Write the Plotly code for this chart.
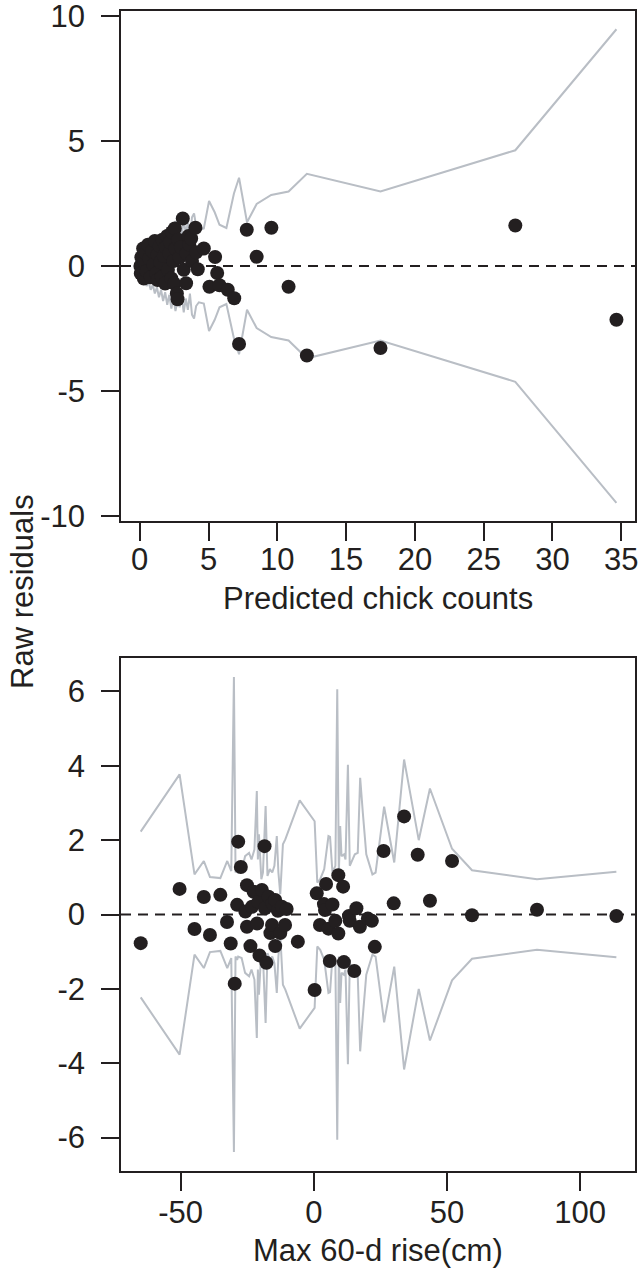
import plotly.graph_objects as go

# ---------- Panel A: residuals vs predicted chick counts ----------
pred_counts = [0.05, 0.08, 0.12, 0.25, 0.30, 0.35, 0.45, 0.50,
               0.60, 0.70, 0.80, 0.90, 1.00, 1.10, 1.20, 1.30, 1.30, 1.45, 1.50,
               1.60, 1.65, 1.75, 1.85, 1.90, 2.00, 2.05, 2.15, 2.20, 2.30, 2.35, 2.45,
               2.50, 2.55, 2.60, 2.70, 2.75, 2.80, 2.90, 3.00, 3.13, 3.20, 3.37, 3.40,
               3.55, 3.60, 3.74, 3.80, 4.05, 4.10, 4.22,
               4.66, 5.07, 5.48, 5.63, 5.80, 6.40, 6.87, 7.22,
               7.78, 8.50, 9.57, 10.82, 12.15, 17.50, 27.30, 34.65]
resid_a = [0.00, -0.30, 0.35, 0.70, -0.50, 0.15, 0.50, -0.20,
           0.85, 0.30, -0.45, 0.60, 0.05, 1.00, -0.30, -0.56, 0.45, 0.80, 0.15,
           -0.45, 1.05, 0.40, -0.70, 0.75, 1.20, -0.15, 0.50, 0.95, -0.50, 1.35, 0.20,
           -0.70, 1.50, 0.70, -1.10, -1.33, 1.05, 0.35, 0.75, 1.90, -0.15, -0.69, 0.50,
           1.20, 0.85, 1.10, 0.20, 1.53, 0.55, -0.13,
           0.70, -0.83, 0.36, -0.28, -0.77, -0.95, -1.29, -3.12,
           1.45, 0.37, 1.53, -0.83, -3.58, -3.28, 1.62, -2.15]

# envelope half-width (drawn as +/- band)
env_x_a = [0.05, 0.20, 0.35, 0.50, 0.65, 0.80, 0.95, 1.10, 1.25, 1.40,
           1.55, 1.70, 1.85, 2.00, 2.15, 2.30, 2.45, 2.60, 2.75, 2.90,
           3.05, 3.20, 3.35, 3.50, 3.65, 3.80, 3.95, 4.10, 4.30, 4.66,
           5.04, 5.45, 5.80, 6.30, 6.85, 7.22, 7.80, 8.50, 9.56, 10.82,
           12.15, 17.50, 27.30, 34.65]
env_a = [0.35, 0.60, 0.50, 0.80, 0.65, 0.95, 0.75, 1.10, 0.85, 1.25,
         0.95, 1.40, 1.05, 1.55, 1.15, 1.70, 1.25, 1.80, 1.35, 1.65,
         1.20, 1.85, 1.30, 1.75, 1.10, 1.95, 2.10, 1.60, 1.45, 1.50,
         2.60, 2.15, 1.65, 1.52, 2.90, 3.53, 1.75, 2.48, 2.84, 2.98,
         3.69, 2.98, 4.63, 9.47]

# ---------- Panel B: residuals vs max 60-d rise ----------
rise_cm = [-65.0, -50.4, -44.8, -41.3, -39.0, -35.1, -32.6, -31.2, -29.7, -28.4,
           -28.8, -27.4, -25.7, -25.1, -25.1, -23.8, -23.2, -22.6, -21.3, -20.8,
           -20.4, -19.5, -18.5, -18.3, -17.8, -17.0, -16.3, -15.7, -15.5, -14.5,
           -14.5, -13.5, -12.6, -12.0, -10.8, -10.2, -6.0, 0.3, 1.1, 2.3,
           3.8, 4.2, 4.6, 5.5, 6.0, 7.0, 8.1, 9.2, 9.2, 11.0,
           11.3, 13.2, 13.5, 15.2, 16.0, 17.3, 20.3, 21.8, 22.9, 26.2,
           30.0, 33.9, 39.0, 43.6, 51.9, 59.4, 83.8, 113.6]
resid_b = [-0.77, 0.69, -0.39, 0.47, -0.55, 0.53, -0.20, -0.78, -1.86, 1.96,
           0.26, 1.28, 0.08, 0.79, -0.33, -0.85, 0.21, 0.61, -0.24, 0.34,
           -1.10, 0.66, 1.84, 0.17, -1.30, 0.48, -0.50, -0.28, 0.30, 0.39,
           -0.85, 0.10, -0.50, 0.21, -0.28, 0.15, -0.73, -2.03, 0.57, -0.28,
           0.28, 0.12, 0.82, -0.38, -1.25, 0.27, -0.17, -0.51, 1.06, 0.75,
           -1.28, -0.04, -0.17, -1.52, 0.17, -0.33, -0.11, -0.17, -0.87, 1.71,
           0.30, 2.64, 1.61, 0.37, 1.44, -0.02, 0.13, -0.04]

env_x_b = [-65.0, -50.4, -44.8, -41.3, -39.0, -35.1, -32.5, -31.0, -30.0, -29.4,
           -28.8, -28.4, -27.1, -25.8, -24.3, -23.4, -22.3, -21.4, -21.0, -20.6,
           -19.7, -19.1, -18.1, -17.4, -16.5, -15.6, -14.8, -13.9, -13.3, -12.6,
           -11.6, -10.7, -5.3, 0.3, 1.3, 2.4, 3.9, 5.5, 6.1, 7.0,
           8.1, 8.8, 9.4, 9.9, 10.4, 11.3, 11.9, 12.8, 13.5, 14.5,
           15.4, 16.5, 17.4, 18.4, 19.7, 22.0, 23.2, 26.4, 30.2, 33.9,
           39.4, 43.6, 51.9, 59.4, 83.8, 113.6]
env_b = [2.23, 3.77, 1.08, 1.44, 1.01, 0.98, 1.44, 1.17, 6.39, 1.13,
         1.22, 1.13, 1.17, 1.57, 1.66, 1.48, 1.75, 3.32, 1.48, 2.16,
         0.95, 1.13, 2.92, 1.04, 1.22, 1.13, 1.31, 2.11, 1.13, 0.55,
         1.89, 2.02, 3.07, 2.51, 0.86, 0.95, 1.22, 2.11, 2.09, 1.13,
         1.31, 6.06, 1.13, 2.38, 1.57, 1.62, 1.48, 4.03, 1.31, 1.48,
         1.62, 1.66, 3.68, 2.74, 1.62, 1.08, 1.13, 2.90, 1.40, 4.17,
         2.00, 3.39, 1.77, 1.19, 0.95, 1.15]

# tick labels (hyphen-minus, as printed)
xt_a = [0, 5, 10, 15, 20, 25, 30, 35]
yt_a = [10, 5, 0, -5, -10]
xt_b = [-50, 0, 50, 100]
yt_b = [6, 4, 2, 0, -2, -4, -6]

INK = "#231f20"
GREY = "#b9bec5"
FONT = "Liberation Sans, Arial, Helvetica, sans-serif"
FS = 31

fig = go.Figure()


def add_panel(xs, ys, ex, ew, xa, ya):
    fig.add_trace(go.Scatter(x=ex, y=ew, mode="lines", xaxis=xa, yaxis=ya,
                             line=dict(color=GREY, width=2), hoverinfo="skip"))
    fig.add_trace(go.Scatter(x=ex, y=[-v for v in ew], mode="lines", xaxis=xa, yaxis=ya,
                             line=dict(color=GREY, width=2), hoverinfo="skip"))
    fig.add_trace(go.Scatter(x=xs, y=ys, mode="markers", xaxis=xa, yaxis=ya,
                             marker=dict(size=14, color=INK, line=dict(width=0))))


add_panel(pred_counts, resid_a, env_x_a, env_a, "x", "y")
add_panel(rise_cm, resid_b, env_x_b, env_b, "x2", "y2")

# dashed reference line at zero across each panel
for xr, yr in (("x domain", "y"), ("x2 domain", "y2")):
    fig.add_shape(type="line", xref=xr, yref=yr, x0=0, x1=1, y0=0, y1=0,
                  line=dict(color=INK, width=2, dash="10px,7px"), layer="below")

axis_common = dict(showgrid=False, zeroline=False, showline=True, mirror=True,
                   linecolor=INK, linewidth=1.5, ticks="outside", ticklen=18,
                   tickwidth=1.5, tickcolor=INK, tickmode="array",
                   ticklabeloverflow="allow", automargin=False,
                   tickfont=dict(family=FONT, size=FS, color=INK))

fig.update_layout(
    width=640, height=1272,
    margin=dict(l=121, r=5, t=11, b=101, autoexpand=False),
    paper_bgcolor="white", plot_bgcolor="white",
    showlegend=False,
    xaxis=dict(axis_common, range=[-1.36, 36.0], anchor="y",
               tickvals=xt_a, ticktext=[str(v) for v in xt_a], ticklabelstandoff=-8),
    yaxis=dict(axis_common, range=[-10.2, 10.2], domain=[0.5603, 1.0], anchor="x",
               tickvals=yt_a, ticktext=[str(v) for v in yt_a], ticklabelstandoff=10),
    xaxis2=dict(axis_common, range=[-72.4, 120.6], anchor="y2",
                tickvals=xt_b, ticktext=[str(v) for v in xt_b], ticklabelstandoff=-5),
    yaxis2=dict(axis_common, range=[-6.9, 6.9], domain=[0.0, 0.4422], anchor="x2",
                tickvals=yt_b, ticktext=[str(v) for v in yt_b], ticklabelstandoff=10),
    annotations=[
        dict(text="Predicted chick counts", xref="paper", yref="paper",
             x=0.5, y=(1171 - 598) / 1160, xanchor="center", yanchor="middle",
             showarrow=False, font=dict(family=FONT, size=FS, color=INK)),
        dict(text="Max 60-d rise(cm)", xref="paper", yref="paper",
             x=0.5, y=(1171 - 1250) / 1160, xanchor="center", yanchor="middle",
             showarrow=False, font=dict(family=FONT, size=FS, color=INK)),
        dict(text="Raw residuals", xref="paper", yref="paper",
             x=(22 - 121) / 514, y=(1171 - 592) / 1160, xanchor="center", yanchor="middle",
             textangle=-90, showarrow=False, font=dict(family=FONT, size=FS, color=INK)),
    ],
)

fig.write_html("out.html")
